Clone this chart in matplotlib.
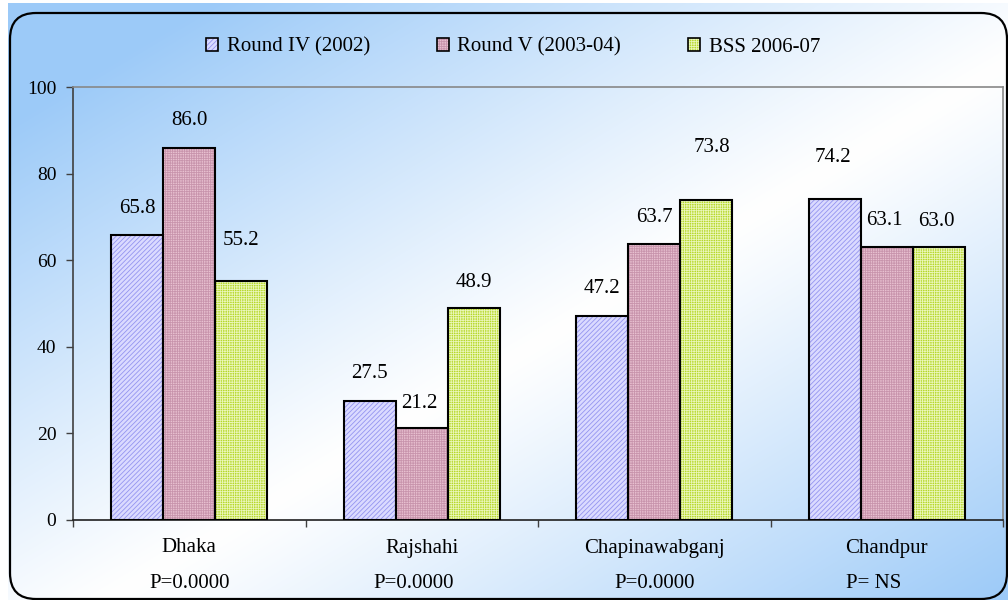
import numpy as np
import matplotlib
matplotlib.use('Agg')
import matplotlib.pyplot as plt
from matplotlib.patches import Patch, FancyBboxPatch
from matplotlib.legend_handler import HandlerTuple
from matplotlib.colors import to_rgb

# data
categories = ['Dhaka', 'Rajshahi', 'Chapinawabganj', 'Chandpur']
p_values = ['P=0.0000', 'P=0.0000', 'P=0.0000', 'P= NS']
series_names = ['Round IV (2002)', 'Round V (2003-04)', 'BSS 2006-07']
round4 = [65.8, 27.5, 47.2, 74.2]
round5 = [86.0, 21.2, 63.7, 63.1]
bss = [55.2, 48.9, 73.8, 63.0]

# styling
faces = ['#dadaff', '#e8c0d0', '#b6d82a']
hatch_cols = ['#9494f0', '#c894ac', '#eaf6b8']
hatches = ['///////', '+++++++', '+++++++']
# label lift above bar top, pixels (labels were moved by hand in the original)
label_dy = [[27, 27, 27, 41], [27, 25, 27, 26], [40, 26, 53, 26]]
label_dx = [[0, 0, 0, -2], [0, -2, 0, -2], [0, 0, 6, -2]]
p_dx = [0, -8, 0, -13]

FONT = 'Liberation Serif'
FS = 15
plt.rcParams['font.family'] = [FONT, 'DejaVu Serif']
plt.rcParams['hatch.linewidth'] = 0.6

W, H = 1008, 600
fig = plt.figure(figsize=(W / 100, H / 100), dpi=100)
fig.patch.set_facecolor('white')

# background: diagonal blue-white-blue gradient inside a rounded frame
bg = fig.add_axes([0, 0, 1, 1], zorder=-5)
bg.set_xlim(0, W)
bg.set_ylim(H, 0)
bg.axis('off')
gx0, gy0 = 8, 3
xx, yy = np.meshgrid(np.linspace(0, 1, W - gx0), np.linspace(0, 1, H - gy0))
t = (xx + yy) / 2
blue = np.array(to_rgb('#9ccaf8'))
white = np.array([1.0, 1.0, 1.0])
k = np.clip(np.abs(t - 0.55) / 0.45, 0, 1) ** 1.1
img = white[None, None, :] * (1 - k[..., None]) + blue[None, None, :] * k[..., None]
bg.imshow(img, extent=(gx0, W, H, gy0), aspect='auto', interpolation='bilinear')
frame = FancyBboxPatch((10, 13), 997, 586, boxstyle='round,pad=0,rounding_size=26',
                       fill=False, edgecolor='black', linewidth=1.6)
bg.add_patch(frame)

ax = fig.add_axes([73 / W, 1 - 520 / H, 930 / W, 433 / H])
ax.set_facecolor('none')

series = [round4, round5, bss]
bw = 0.224
x = np.arange(len(categories))
for i, vals in enumerate(series):
    xs = x + (i - 1) * bw
    ax.bar(xs, vals, bw, color=faces[i], edgecolor=hatch_cols[i], hatch=hatches[i],
           linewidth=0, zorder=2)
    ax.bar(xs, vals, bw, fill=False, edgecolor='black', linewidth=1.5, zorder=3)
    for j, v in enumerate(vals):
        ax.annotate(f'{v:.1f}', xy=(xs[j], v), xytext=(label_dx[i][j] * 0.72, label_dy[i][j] * 0.72),
                    textcoords='offset points', ha='center', va='center', fontsize=FS)

ax.set_xlim(-0.5, len(categories) - 0.5)
ax.set_ylim(0, 100)
ax.set_yticks(range(0, 101, 20))
ax.tick_params(axis='y', direction='out', length=5, width=1, color='#404040',
               labelsize=14, pad=7)
ax.set_xticks(np.arange(-0.5, len(categories), 1.0))
ax.set_xticklabels([])
ax.tick_params(axis='x', direction='out', length=5, width=1, color='#404040')

for j, (c, p) in enumerate(zip(categories, p_values)):
    ax.annotate(c, xy=(j, 0), xycoords=('data', 'axes fraction'), xytext=(0, -28 * 0.72),
                textcoords='offset points', ha='center', va='center', fontsize=FS)
    ax.annotate(p, xy=(j, 0), xycoords=('data', 'axes fraction'), xytext=(p_dx[j] * 0.72, -63 * 0.72),
                textcoords='offset points', ha='center', va='center', fontsize=FS)

ax.spines['left'].set_color('#404040')
ax.spines['bottom'].set_color('#202020')
ax.spines['top'].set_color('#888888')
ax.spines['right'].set_color('#888888')
for s in ax.spines.values():
    s.set_linewidth(1.2)

handles = []
for i in range(3):
    h1 = Patch(facecolor=faces[i], edgecolor=hatch_cols[i], hatch=hatches[i], linewidth=0)
    h2 = Patch(fill=False, edgecolor='black', linewidth=1.2)
    handles.append((h1, h2))
fig.legend(handles, series_names, handler_map={tuple: HandlerTuple(ndivide=1, pad=0)},
           loc='center', bbox_to_anchor=(513 / W, 1 - 47 / H), ncol=3, frameon=False,
           fontsize=FS, handlelength=0.6, handleheight=0.6, handletextpad=0.4,
           columnspacing=3.2)

fig.savefig('out.png', dpi=100)
